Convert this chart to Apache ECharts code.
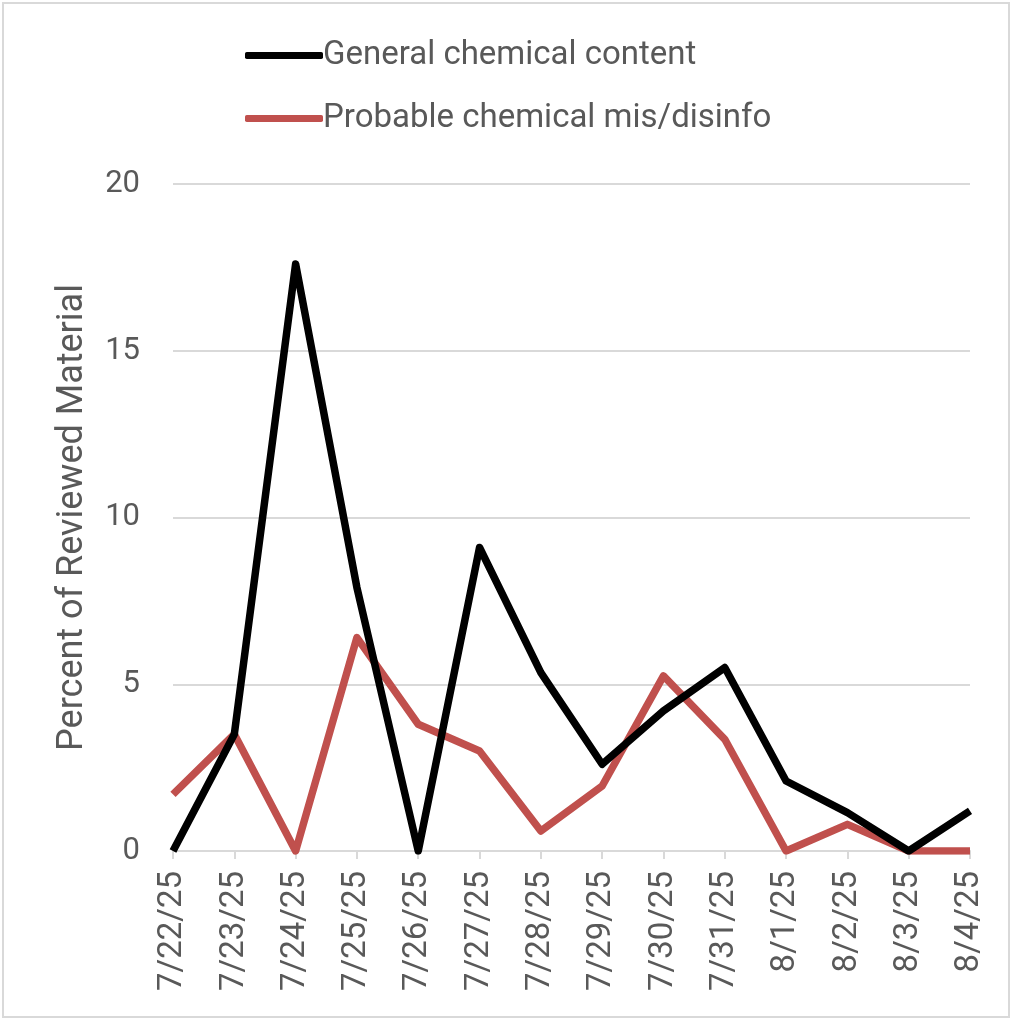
<!DOCTYPE html>
<html>
<head>
  <meta charset="utf-8">
  <style>
    html, body {
      width: 100%;
      height: 100%;
      margin: 0;
      padding: 0;
      overflow: hidden;
      background: #fff;
    }
    #container {
      width: 1016px;
      height: 1024px;
      position: absolute;
      top: 0;
      left: 0;
    }
    #frame {
      position: absolute;
      left: 2px;
      top: 2px;
      width: 1004px;
      height: 1012px;
      border: 2px solid #d9d9d9;
      pointer-events: none;
    }
  </style>
</head>
<body>
  <div id="container"></div>
  <div id="frame"></div>
  <script src="https://cdn.jsdelivr.net/npm/echarts@6/dist/echarts.min.js"></script>
  <script>
    // dates on the x axis
    var dates = ['7/22/25', '7/23/25', '7/24/25', '7/25/25', '7/26/25', '7/27/25', '7/28/25',
      '7/29/25', '7/30/25', '7/31/25', '8/1/25', '8/2/25', '8/3/25', '8/4/25'];

    // percent of reviewed material
    var generalContent = [0, 3.5, 17.6, 7.9, 0, 9.1, 5.35, 2.6, 4.2, 5.5, 2.1, 1.15, 0, 1.2];
    var probableMisinfo = [1.7, 3.5, 0, 6.4, 3.8, 3.0, 0.6, 1.95, 5.25, 3.35, 0, 0.8, 0, 0];

    var seriesNames = ['General chemical content', 'Probable chemical mis/disinfo'];
    var yTicks = [0, 5, 10, 15, 20];

    var textColor = '#595959';
    var font = 'Roboto';

    var chart = echarts.init(document.getElementById('container'));

    chart.setOption({
      animation: false,
      legend: {
        orient: 'vertical',
        left: 240,
        top: 34,
        itemWidth: 78,
        itemHeight: 7,
        itemGap: 30,
        icon: 'roundRect',
        textStyle: {
          color: textColor,
          fontFamily: font,
          fontSize: 33,
          padding: [0, 0, 0, -5]
        },
        data: seriesNames
      },
      grid: {
        left: 173,
        right: 46,
        top: 184,
        bottom: 173
      },
      xAxis: {
        type: 'category',
        boundaryGap: false,
        data: dates,
        axisLine: {
          lineStyle: { color: '#d9d9d9', width: 2 }
        },
        axisTick: {
          show: true,
          length: 8,
          lineStyle: { color: '#d9d9d9', width: 2 }
        },
        axisLabel: {
          rotate: 90,
          margin: 20,
          color: textColor,
          fontFamily: font,
          fontSize: 33
        }
      },
      yAxis: {
        type: 'value',
        min: 0,
        max: 20,
        interval: 5,
        name: 'Percent of Reviewed Material',
        nameLocation: 'middle',
        nameGap: 82,
        nameTextStyle: {
          color: textColor,
          fontFamily: font,
          fontSize: 36
        },
        axisLine: { show: false },
        axisTick: { show: false },
        axisLabel: {
          margin: 33,
          color: textColor,
          fontFamily: font,
          fontSize: 31,
          formatter: function (v) {
            return yTicks.indexOf(v) >= 0 ? String(v) : '';
          }
        },
        splitLine: {
          lineStyle: { color: '#d9d9d9', width: 2 }
        }
      },
      series: [{
        name: seriesNames[0],
        type: 'line',
        data: generalContent,
        showSymbol: false,
        symbol: 'none',
        color: '#000000',
        lineStyle: { color: '#000000', width: 7.5, join: 'round' },
        z: 3
      }, {
        name: seriesNames[1],
        type: 'line',
        data: probableMisinfo,
        showSymbol: false,
        symbol: 'none',
        color: '#c0504d',
        lineStyle: { color: '#c0504d', width: 7.5, join: 'round' },
        z: 2
      }]
    });
  </script>
</body>
</html>
